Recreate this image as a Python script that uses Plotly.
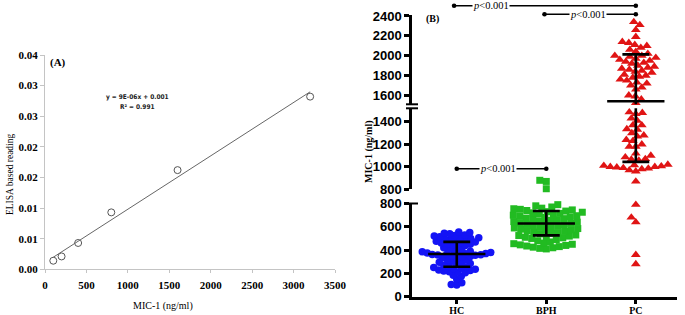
import numpy as np
import plotly.graph_objects as go

W, H = 685, 315


def px(x):
    return x / W


def py(y):
    return 1 - y / H


# ---------------- Panel A data ----------------
std_conc = [100, 200, 400, 800, 1600, 3200]
elisa_reading = [0.0014, 0.0021, 0.0043, 0.0093, 0.0162, 0.0282]
eq_label = "y = 9E-06x + 0.001"
r2_label = "R² = 0.991"
a_yticks = [0, 0.005, 0.01, 0.015, 0.02, 0.025, 0.03, 0.035]
a_yticklabels = ["0.00", "0.01", "0.01", "0.02", "0.02", "0.03", "0.03", "0.04"]
a_xticks = [0, 500, 1000, 1500, 2000, 2500, 3000, 3500]

# ---------------- Panel B data ----------------
groups = ["HC", "BPH", "PC"]
hc_values = [100, 105, 120, 150, 175, 185,
             205, 210, 215, 220, 225, 230, 235, 240, 245, 250, 255, 260,
             270, 280, 285, 290, 295,
             305, 315, 320, 330, 335, 340, 345, 350,
             355, 358, 360, 362, 365, 368, 370, 372, 375, 380, 385, 390, 395,
             405, 410, 420, 430, 440, 445, 450,
             455, 460, 465, 470, 475, 480, 485, 490, 495,
             500, 505, 510, 515, 520, 525, 530, 540, 545, 550, 555]
bph_values = [410, 415, 420, 425, 430, 435, 440, 445, 450, 455,
              460, 470, 480, 490, 500, 505, 510, 515, 520, 525,
              530, 540, 545, 550, 555, 560, 565, 570, 575, 580,
              585, 590, 595, 600, 605, 610, 615, 620, 625, 630,
              635, 640, 645, 650, 655, 660, 665, 670, 675, 680,
              685, 690, 695, 700, 705, 710, 715, 720, 725, 730,
              735, 740, 745, 750, 755, 760, 770, 780, 790,
              805, 870, 880]
pc_values = [280, 360, 640, 680, 790, 870,
             960, 970, 980, 985, 990, 995, 1000, 1000, 1005, 1010, 1015, 1020,
             1055, 1065, 1070, 1085, 1100, 1120,
             1180, 1180, 1200, 1230, 1240, 1270, 1280, 1300,
             1330, 1335, 1370, 1370, 1410, 1430, 1470, 1480, 1485,
             1525, 1560, 1590, 1600,
             1660, 1680, 1700, 1720, 1730, 1750, 1760, 1780, 1790, 1800,
             1810, 1830, 1840, 1850, 1860, 1870, 1880, 1890, 1900,
             1920, 1930, 1940, 1950, 1960, 1970, 1980, 1990, 2000, 2000,
             2020, 2040, 2060, 2080, 2100, 2110,
             2130, 2140, 2190, 2260, 2310, 2340]
group_means = [366, 628, 1540]
group_sd_low = [257, 526, 1044]
group_sd_high = [471, 736, 2013]
p_label = "<i>p</i>&lt;0.001"

# ---------------- geometry (pixels) ----------------
A_X0, A_X1 = 45, 335
A_Y0, A_Y1 = 269.3, 55
B_X0, B_X1 = 412, 677
B_XRANGE = [-0.5, 2.46]
# broken axis segments: (range, pixel bottom, pixel top)
segments = [
    ([0, 800], 296.7, 203.5),
    ([800, 1520], 189.3, 108.3),
    ([1510, 2410], 104.3, 15),
]
seg_filter = [(-1, 800), (800, 1515), (1515, 1e9)]
px_per_cat = (B_X1 - B_X0) / (B_XRANGE[1] - B_XRANGE[0])


def value_to_px(v):
    for (rng, pb, pt), (lo, hi) in zip(segments, seg_filter):
        if lo <= v < hi:
            return pb - (v - rng[0]) * (pb - pt) / (rng[1] - rng[0])
    return 0


def swarm(vals, d):
    order = sorted(range(len(vals)), key=lambda i: vals[i])
    placed = []
    res = [0.0] * len(vals)
    flip = 1
    for i in order:
        y = value_to_px(vals[i])
        best = None
        k = 0
        while best is None:
            cands = [0.0] if k == 0 else [flip * k * 0.5, -flip * k * 0.5]
            for s in cands:
                if all((s - xo) ** 2 + (y - yo) ** 2 >= d * d for xo, yo in placed):
                    best = s
                    break
            k += 1
        flip = -flip
        placed.append((best, y))
        res[i] = best / px_per_cat
    return res


fig = go.Figure()

# ---------------- Panel A ----------------
fig.add_trace(go.Scatter(
    x=std_conc, y=elisa_reading, mode="markers",
    marker=dict(symbol="circle-open", size=7, color="#555555", line=dict(width=1)),
    xaxis="x", yaxis="y", showlegend=False, hoverinfo="skip"))
slope, intercept = np.polyfit(std_conc, elisa_reading, 1)
fx = [min(std_conc), max(std_conc)]
fig.add_trace(go.Scatter(
    x=fx, y=[slope * v + intercept for v in fx], mode="lines",
    line=dict(color="#666666", width=1), xaxis="x", yaxis="y",
    showlegend=False, hoverinfo="skip"))

# ---------------- Panel B ----------------
styles = [
    dict(symbol="circle", size=7.5, color="#1414f5"),
    dict(symbol="square", size=7, color="#22bb22"),
    dict(symbol="triangle-up", size=8.5, color="#e01414"),
]
spacing = [5.1, 6.3, 6.3]
all_vals = [hc_values, bph_values, pc_values]
yaxes = ["y2", "y3", "y4"]

for gi, vals in enumerate(all_vals):
    offs = swarm(vals, spacing[gi])
    for si, (lo, hi) in enumerate(seg_filter):
        xs = [gi + o for v, o in zip(vals, offs) if lo <= v < hi]
        ys = [v for v in vals if lo <= v < hi]
        if not ys:
            continue
        fig.add_trace(go.Scatter(
            x=xs, y=ys, mode="markers", cliponaxis=False,
            marker=dict(symbol=styles[gi]["symbol"], size=styles[gi]["size"],
                        color=styles[gi]["color"], line=dict(width=0)),
            xaxis="x2", yaxis=yaxes[si], showlegend=False, hoverinfo="skip"))

# mean and SD lines drawn in every segment (clipped by each segment)
for gi in range(3):
    m, lo, hi = group_means[gi], group_sd_low[gi], group_sd_high[gi]
    lx, ly = [], []
    lx += [gi - 0.32, gi + 0.32, None]
    ly += [m, m, None]
    lx += [gi, gi, None]
    ly += [lo, hi, None]
    lx += [gi - 0.15, gi + 0.15, None]
    ly += [lo, lo, None]
    lx += [gi - 0.15, gi + 0.15]
    ly += [hi, hi]
    for ya in yaxes:
        fig.add_trace(go.Scatter(
            x=lx, y=ly, mode="lines", line=dict(color="black", width=2.6),
            xaxis="x2", yaxis=ya, showlegend=False, hoverinfo="skip"))

# ---------------- Layout ----------------
serif = "Liberation Serif"
sans = "Liberation Sans"
layout = dict(
    width=W, height=H, margin=dict(l=0, r=0, t=0, b=0),
    paper_bgcolor="white", plot_bgcolor="white", showlegend=False,
    xaxis=dict(domain=[px(A_X0), px(A_X1)], range=[0, 3500], anchor="y",
               automargin=False,
               tickvals=a_xticks, showgrid=False, zeroline=False,
               showline=True, linecolor="#c4c4c4", linewidth=1,
               ticks="outside", ticklen=3, tickcolor="#c4c4c4",
               tickfont=dict(family=serif, size=11, color="black", weight="bold"),
               ticklabelstandoff=2),
    yaxis=dict(domain=[py(A_Y0), py(A_Y1)], range=[0, 0.035], anchor="x",
               automargin=False,
               tickvals=a_yticks, ticktext=a_yticklabels, showgrid=False,
               zeroline=False, showline=True, linecolor="#c4c4c4", linewidth=1,
               ticks="outside", ticklen=4, tickcolor="#c4c4c4",
               tickfont=dict(family=serif, size=11, color="black", weight="bold")),
    xaxis2=dict(domain=[px(B_X0), px(B_X1)], range=B_XRANGE, anchor="y2",
                automargin=False,
                tickvals=[0, 1, 2], ticktext=groups, showgrid=False,
                zeroline=False, showline=True, linecolor="black", linewidth=2.5,
                ticks="outside", ticklen=5, tickwidth=2.5, tickcolor="black",
                tickfont=dict(family=serif, size=10, color="black", weight="bold"),
                ticklabelstandoff=-2),
)
seg_ticks = [[0, 200, 400, 600, 800], [800, 1000, 1200, 1400],
             [1600, 1800, 2000, 2200, 2400]]
for si, ((rng, pb, pt), tv) in enumerate(zip(segments, seg_ticks)):
    name = "yaxis" + str(si + 2)
    layout[name] = dict(
        domain=[py(pb), py(pt)], range=rng, anchor="x2", tickvals=tv,
        automargin=False,
        showgrid=False, zeroline=False, showline=True, linecolor="black",
        linewidth=2.5, ticks="outside", ticklen=5, tickwidth=2.5,
        tickcolor="black",
        tickfont=dict(family=sans, size=13, color="black", weight="bold"))
fig.update_layout(**layout)

ann = []
ann.append(dict(text="ELISA based reading", x=px(10), y=py(174), textangle=-90,
                font=dict(family=serif, size=9.5, color="black")))
ann.append(dict(text="MIC-1 (ng/ml)", x=px(163), y=py(306),
                font=dict(family=serif, size=10, color="black")))
ann.append(dict(text="<b>(A)</b>", x=px(58), y=py(63),
                font=dict(family=serif, size=11, color="black")))
ann.append(dict(text="<b>" + eq_label + "</b>", x=px(137), y=py(97),
                font=dict(family="DejaVu Sans Condensed, DejaVu Sans", size=6.5, color="#222222")))
ann.append(dict(text="<b>" + r2_label + "</b>", x=px(137), y=py(107),
                font=dict(family="DejaVu Sans Condensed, DejaVu Sans", size=6.5, color="#222222")))
ann.append(dict(text="<b>MIC-1 (ng/ml)</b>", x=px(369), y=py(152), textangle=-90,
                font=dict(family=serif, size=10, color="black")))
ann.append(dict(text="<b>(B)</b>", x=px(432), y=py(19),
                font=dict(family=serif, size=10, color="black")))

# significance brackets
brackets = [(-0.03, 2.0, 5.7, 490.5), (0.98, 2.0, 14.3, 587.5), (0.0, 1.0, 168.7, 498)]
shapes = []
for x0, x1, yb, tx in brackets:
    shapes.append(dict(type="line", xref="x2", yref="paper", x0=x0, x1=x1,
                       y0=py(yb), y1=py(yb), line=dict(color="black", width=1.6)))
    for xe in (x0, x1):
        shapes.append(dict(type="circle", xref="x2", yref="paper",
                           xsizemode="pixel", ysizemode="pixel",
                           xanchor=xe, yanchor=py(yb), x0=-2.3, x1=2.3, y0=-2.3, y1=2.3,
                           fillcolor="black", line=dict(width=0)))
    ann.append(dict(text=p_label, x=px(tx), y=py(yb), bgcolor="white", borderpad=0,
                    font=dict(family=serif, size=10.5, color="black")))

# axis-break caps
for yc in (104.3, 108.3, 203.5):
    shapes.append(dict(type="line", xref="paper", yref="paper", x0=px(406), x1=px(418),
                       y0=py(yc), y1=py(yc), line=dict(color="black", width=2)))

for a in ann:
    a.update(xref="paper", yref="paper", showarrow=False, xanchor="center", yanchor="middle")
fig.update_layout(annotations=ann, shapes=shapes)

fig.write_html(
    "out.html",
    config={"displayModeBar": False},
    post_script="document.body.style.margin='0px';document.body.style.padding='0px';",
)
